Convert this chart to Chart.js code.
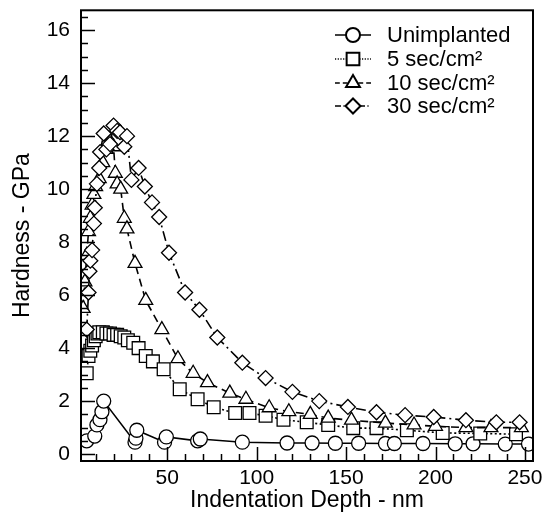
<!DOCTYPE html>
<html><head><meta charset="utf-8">
<script src="https://cdn.jsdelivr.net/npm/chart.js@4"></script>
<style>html,body{margin:0;padding:0;background:#fff}</style>
</head><body>
<canvas id="c" width="547" height="515"></canvas>
<script>
const seriesNames = ['Unimplanted', '5 sec/cm²', '10 sec/cm²', '30 sec/cm²'];

const unimplantedDepth = [5, 9.5, 10.7, 12.4, 13.5, 14.5, 32, 32.5, 33, 48.5, 49.5, 67, 68.5, 92, 117, 131, 144, 157, 172, 177, 193, 211, 221, 239, 252];
const unimplantedHardness = [0.5, 0.68, 1.1, 1.3, 1.6, 2.0, 0.45, 0.6, 0.9, 0.45, 0.65, 0.5, 0.57, 0.45, 0.42, 0.42, 0.41, 0.41, 0.4, 0.4, 0.4, 0.39, 0.39, 0.38, 0.38];

const sec5Depth = [5, 6, 7, 8, 9, 10, 11, 12, 14, 16, 18, 20, 22, 24, 26, 28, 31, 34, 38, 42, 48, 57, 67, 76, 88, 96, 105, 115, 128, 140, 154, 167, 184, 204, 225, 245];
const sec5Hardness = [3.05, 3.7, 3.9, 4.1, 4.3, 4.45, 4.55, 4.6, 4.6, 4.55, 4.55, 4.5, 4.5, 4.45, 4.4, 4.3, 4.2, 4.0, 3.7, 3.5, 3.2, 2.45, 2.07, 1.77, 1.55, 1.55, 1.45, 1.3, 1.2, 1.1, 0.98, 0.98, 0.9, 0.8, 0.78, 0.75];

const sec10Depth = [3, 4, 5, 6, 7, 8, 9, 10, 12, 14, 16, 18, 20, 21, 22, 24, 26, 27.5, 32, 38, 47, 56, 64.5, 72.5, 85, 94, 107, 118, 130, 140, 153, 172, 188, 200, 217, 231, 248];
const sec10Hardness = [5.5, 6.5, 7.5, 8.4, 8.9, 9.4, 9.8, 10.1, 10.4, 11.0, 11.5, 11.8, 11.6, 10.6, 10.2, 10.0, 8.9, 8.5, 7.2, 5.8, 4.7, 3.6, 3.05, 2.7, 2.3, 2.07, 1.75, 1.6, 1.5, 1.36, 1.28, 1.17, 1.1, 1.05, 1.0, 1.0, 1.0];

const sec30Depth = [5, 6, 6.5, 7, 8, 9, 9.5, 10.7, 12, 12.5, 14.5, 16, 18, 20, 22, 23.6, 26, 27.5, 30, 34, 37.5, 41.5, 45.5, 51, 60, 68, 78, 92, 105, 120, 135, 151, 167, 183, 199, 217, 234, 247];
const sec30Hardness = [4.7, 6.1, 6.9, 7.3, 7.7, 8.7, 9.3, 10.2, 10.8, 11.4, 12.1, 11.5, 11.7, 12.4, 12.2, 12.15, 11.6, 12.0, 10.35, 10.8, 10.1, 9.5, 8.95, 7.6, 6.1, 5.45, 4.4, 3.45, 2.87, 2.35, 2.0, 1.78, 1.58, 1.47, 1.4, 1.28, 1.2, 1.2];

const xTickLabels = [50, 100, 150, 200, 250];
const yTickLabels = [0, 2, 4, 6, 8, 10, 12, 14, 16];

const FONT = "'Liberation Sans', Arial, sans-serif";
const pts = (xs, ys) => xs.map((x, i) => ({x, y: ys[i]}));

const styles = [
  {pointStyle: 'circle', radius: 7, dash: []},
  {pointStyle: 'rect', radius: 9, dash: [2, 2.5]},
  {pointStyle: 'triangle', radius: 8, dash: [8, 5]},
  {pointStyle: 'rectRot', radius: 7.5, dash: [10, 4, 2, 4]}
];
const seriesData = [
  pts(unimplantedDepth, unimplantedHardness),
  pts(sec5Depth, sec5Hardness),
  pts(sec10Depth, sec10Hardness),
  pts(sec30Depth, sec30Hardness)
];

const datasets = seriesNames.map((name, i) => ({
  label: name,
  data: seriesData[i],
  borderColor: '#000',
  borderWidth: 1.6,
  borderDash: styles[i].dash,
  pointStyle: styles[i].pointStyle,
  pointRadius: styles[i].radius,
  pointBorderWidth: 1.3,
  pointBorderColor: '#000',
  pointBackgroundColor: '#fff',
  fill: false,
  tension: 0,
  order: 4 - i
}));

const frameTicks = {
  id: 'frameTicks',
  afterDraw(chart) {
    const {ctx, chartArea: a, scales: {x, y}} = chart;
    ctx.save();
    ctx.strokeStyle = '#000';
    ctx.lineWidth = 1.5;
    ctx.beginPath();
    for (let v = 0; v <= 16.5 + 1e-9; v += 0.5) {
      const py = Math.round(y.getPixelForValue(v)) + 0.5;
      const len = (Math.abs(v % 2) < 1e-9) ? 14 : 7;
      ctx.moveTo(a.left, py); ctx.lineTo(a.left + len, py);
    }
    for (let v = 10; v <= 250 + 1e-9; v += 10) {
      const px = Math.round(x.getPixelForValue(v)) + 0.5;
      const len = (v % 50 === 0) ? 14 : 7;
      ctx.moveTo(px, a.bottom); ctx.lineTo(px, a.bottom - len);
    }
    ctx.stroke();
    ctx.lineWidth = 2;
    ctx.strokeRect(a.left, a.top, a.right - a.left, a.bottom - a.top);
    // legend
    const rows = [35, 59, 83, 106];
    ctx.font = '22px ' + FONT;
    ctx.textBaseline = 'middle';
    ctx.fillStyle = '#000';
    chart.data.datasets.forEach((ds, i) => {
      const yy = rows[i];
      ctx.save();
      ctx.lineWidth = 1.4;
      ctx.setLineDash(ds.borderDash.length ? ds.borderDash.map(d => d * 0.6) : []);
      ctx.beginPath(); ctx.moveTo(335, yy); ctx.lineTo(371, yy); ctx.stroke();
      ctx.restore();
      ctx.save();
      ctx.fillStyle = '#fff';
      Chart.helpers.drawPoint(ctx, {pointStyle: ds.pointStyle, radius: ds.pointRadius, rotation: 0, borderWidth: 1.3}, 353, yy);
      ctx.restore();
      ctx.fillText(ds.label, 387, yy + 1);
    });
    ctx.restore();
  }
};

new Chart(document.getElementById('c'), {
  type: 'line',
  data: {datasets},
  options: {
    responsive: false,
    animation: false,
    devicePixelRatio: 1,
    layout: {padding: {left: 0, right: 14, top: 10, bottom: 0}},
    plugins: {legend: {display: false}, tooltip: {enabled: false}},
    scales: {
      x: {
        type: 'linear', min: 1.8, max: 254.5,
        afterBuildTicks: s => { s.ticks = xTickLabels.map(v => ({value: v})); },
        afterFit: s => { s.height = 54; s.paddingLeft = 0; s.paddingRight = 0; },
        grid: {display: false, drawTicks: false},
        border: {display: false},
        ticks: {color: '#000', font: {family: FONT, size: 21}, padding: 5, maxRotation: 0},
        title: {display: true, text: 'Indentation Depth - nm', color: '#000', font: {family: FONT, size: 23}, padding: {top: 0, bottom: 1}}
      },
      y: {
        type: 'linear', min: -0.26, max: 16.75,
        afterBuildTicks: s => { s.ticks = yTickLabels.map(v => ({value: v})); },
        afterFit: s => { s.width = 81; s.paddingTop = 0; s.paddingBottom = 0; },
        grid: {display: false, drawTicks: false},
        border: {display: false},
        ticks: {color: '#000', font: {family: FONT, size: 21}, padding: 11},
        title: {display: true, text: 'Hardness - GPa', color: '#000', font: {family: FONT, size: 23}, padding: {top: 9, bottom: 0}}
      }
    }
  },
  plugins: [frameTicks]
});
</script>
</body></html>
